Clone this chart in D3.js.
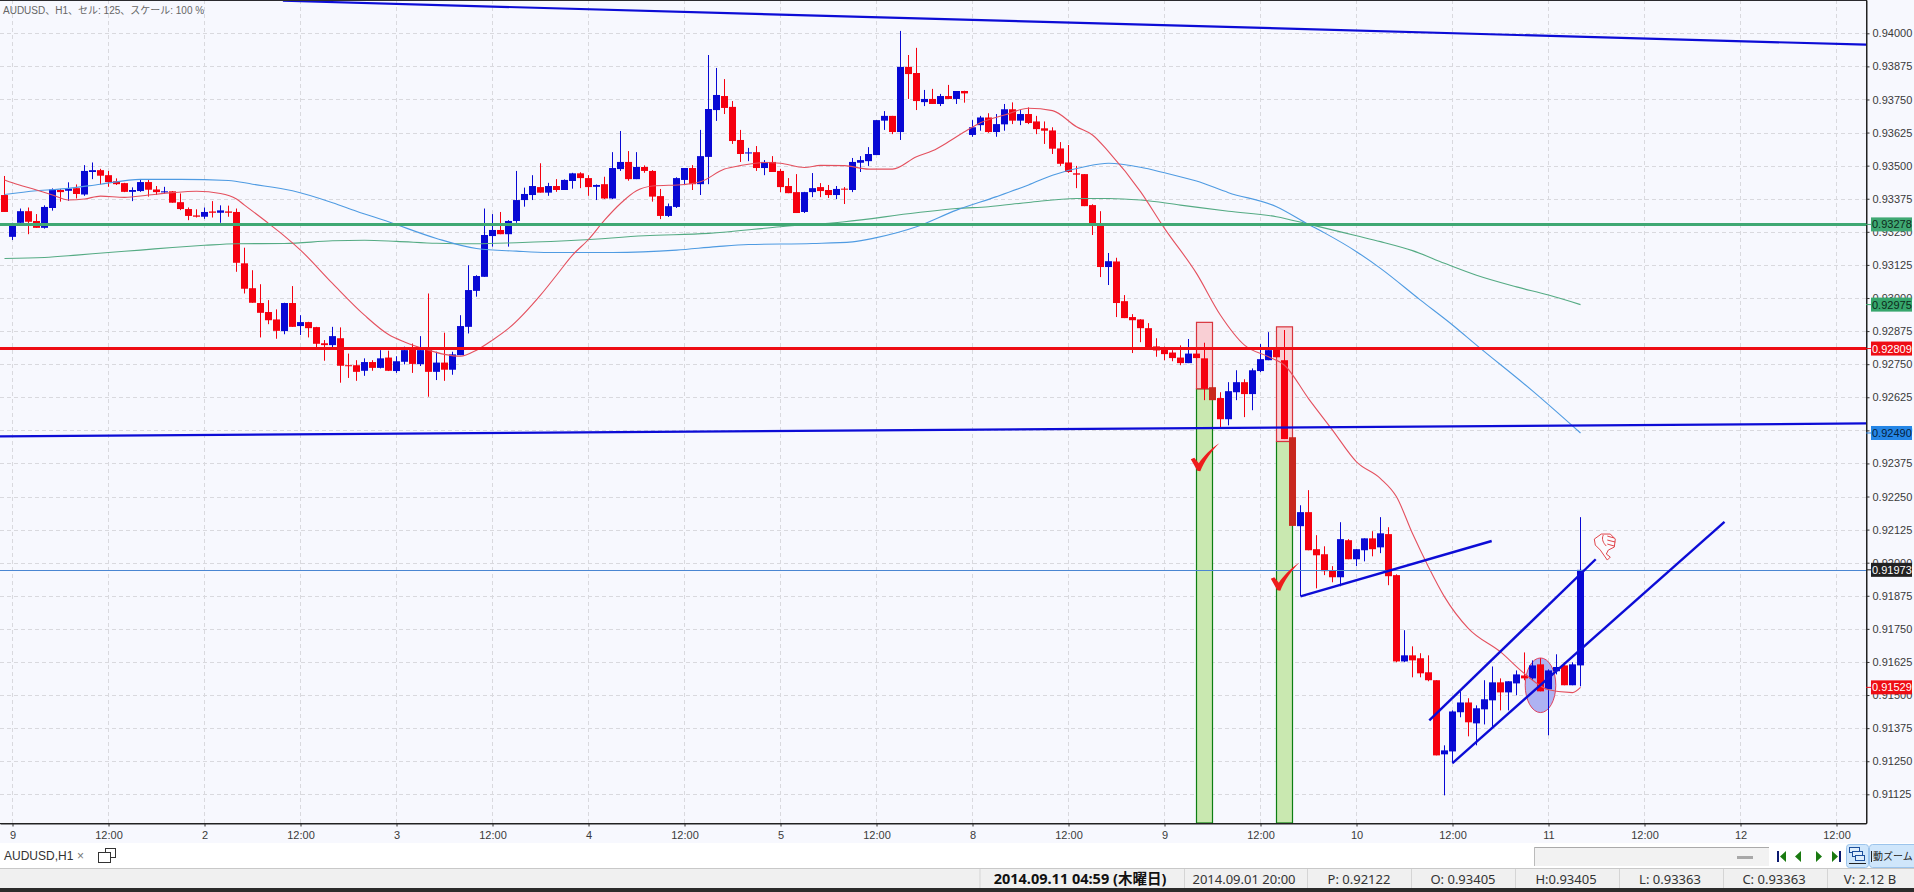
<!DOCTYPE html>
<html><head><meta charset="utf-8"><title>AUDUSD H1</title>
<script src="https://cdn.jsdelivr.net/npm/d3@7/dist/d3.min.js"></script>
<style>html,body{margin:0;padding:0;background:#fff;overflow:hidden}svg{display:block}text{font-family:"Liberation Sans","Noto Sans CJK JP",sans-serif}.st{font-family:"Noto Sans","Noto Sans CJK JP",sans-serif}</style>
</head><body><div id="chart"></div><script>
const highs=[.93461,.93284,.93338,.93342,.93317,.93350,.93414,.93412,.93437,.93429,
.93502,.93512,.93488,.93480,.93452,.93435,.93418,.93446,.93446,.93423,
.93420,.93404,.93395,.93342,.93335,.93342,.93366,.93350,.93349,.93338,
.93190,.93105,.93052,.92992,.92957,.92982,.93045,.92935,.92910,.92891,
.92841,.92891,.92889,.92790,.92765,.92772,.92765,.92803,.92801,.92780,
.92816,.92828,.92856,.93017,.92797,.92869,.92797,.92935,.93124,.93086,
.93338,.93317,.93325,.93294,.93480,.93417,.93464,.93509,.93435,.93449,
.93448,.93473,.93475,.93464,.93429,.93458,.93551,.93631,.93555,.93551,
.93501,.93483,.93412,.93357,.93456,.93491,.93502,.93635,.93918,.93869,
.93827,.93744,.93635,.93567,.93574,.93521,.93536,.93487,.93453,.93468,
.93401,.93472,.93434,.93427,.93423,.93419,.93529,.93536,.93570,.93672,
.93706,.93688,.94009,.93918,.93945,.93786,.93790,.93771,.93805,.93782,
.93783,.93672,.93688,.93698,.93695,.93733,.93739,.93710,.93720,.93688,
.93667,.93645,.93589,.93578,.93499,.93468,.93354,.93328,.93170,.93152,
.93011,.92939,.92920,.92905,.92848,.92816,.92803,.92821,.92845,.92809,
.92831,.92664,.92644,.92682,.92727,.92693,.92734,.92826,.92871,.92816,
.92879,.92474,.92217,.92274,.92104,.92062,.91987,.92153,.92089,.92051,
.92092,.92119,.92172,.92134,.91956,.91745,.91684,.91658,.91650,.91556,
.91310,.91442,.91514,.91488,.91461,.91556,.91608,.91563,.91552,.91593,
.91661,.91631,.91639,.91597,.91654,.91624,.91624,.92172];
const lows=[.93325,.93219,.93282,.93241,.93265,.93262,.93330,.93364,.93367,.93376,
.93386,.93449,.93429,.93420,.93427,.93400,.93366,.93401,.93383,.93389,
.93393,.93360,.93332,.93294,.93304,.93299,.93304,.93284,.93307,.93099,
.93017,.92982,.92851,.92901,.92846,.92863,.92891,.92860,.92851,.92811,
.92763,.92813,.92680,.92698,.92687,.92706,.92725,.92734,.92724,.92717,
.92749,.92717,.92743,.92627,.92690,.92687,.92710,.92784,.92866,.93005,
.93080,.93194,.93241,.93194,.93284,.93345,.93370,.93398,.93386,.93401,
.93408,.93413,.93415,.93386,.93370,.93374,.93374,.93480,.93443,.93449,
.93473,.93364,.93298,.93306,.93340,.93430,.93408,.93389,.93430,.93669,
.93695,.93582,.93514,.93517,.93480,.93464,.93476,.93400,.93396,.93321,
.93321,.93381,.93381,.93378,.93374,.93355,.93400,.93476,.93499,.93540,
.93635,.93619,.93597,.93752,.93710,.93725,.93733,.93725,.93752,.93733,
.93738,.93609,.93632,.93624,.93609,.93632,.93657,.93653,.93657,.93619,
.93582,.93544,.93499,.93473,.93415,.93347,.93238,.93079,.93049,.92928,
.92924,.92792,.92833,.92805,.92778,.92765,.92761,.92746,.92754,.92773,
.92614,.92614,.92508,.92519,.92614,.92550,.92576,.92720,.92765,.92776,
.92467,.92139,.91873,.92047,.91903,.91953,.91926,.91911,.92013,.91987,
.92005,.92024,.92036,.91915,.91624,.91624,.91567,.91567,.91552,.91272,
.91121,.91242,.91416,.91344,.91310,.91389,.91374,.91442,.91442,.91499,
.91556,.91556,.91514,.91348,.91578,.91537,.91537,.91533];
const opens=[.93389,.93231,.93284,.93328,.93291,.93265,.93340,.93408,.93405,.93415,
.93391,.93476,.93483,.93464,.93441,.93434,.93401,.93404,.93438,.93410,
.93399,.93403,.93362,.93336,.93312,.93307,.93327,.93322,.93327,.93325,
.93131,.93037,.92981,.92947,.92919,.92875,.92981,.92894,.92909,.92890,
.92829,.92822,.92848,.92746,.92746,.92725,.92758,.92736,.92775,.92724,
.92759,.92813,.92750,.92809,.92721,.92756,.92729,.92784,.92891,.93027,
.93080,.93234,.93257,.93241,.93291,.93370,.93389,.93419,.93398,.93423,
.93408,.93442,.93471,.93453,.93420,.93430,.93376,.93487,.93514,.93449,
.93495,.93480,.93385,.93310,.93344,.93446,.93491,.93430,.93533,.93710,
.93763,.93722,.93597,.93546,.93551,.93491,.93514,.93480,.93423,.93400,
.93325,.93400,.93419,.93408,.93389,.93413,.93408,.93511,.93517,.93540,
.93670,.93688,.93627,.93873,.93850,.93740,.93752,.93733,.93763,.93752,
.93782,.93616,.93653,.93682,.93627,.93656,.93713,.93670,.93695,.93667,
.93641,.93633,.93565,.93512,.93471,.93468,.93351,.93272,.93117,.93138,
.92988,.92928,.92919,.92886,.92817,.92807,.92794,.92775,.92754,.92790,
.92772,.92663,.92622,.92542,.92644,.92682,.92637,.92724,.92765,.92811,
.92765,.92474,.92138,.92191,.92051,.92032,.91971,.91945,.92085,.92013,
.92047,.92092,.92058,.92108,.91953,.91627,.91650,.91639,.91586,.91556,
.91276,.91287,.91435,.91472,.91393,.91446,.91480,.91548,.91510,.91544,
.91574,.91563,.91616,.91522,.91590,.91612,.91537,.91612];
const closes=[.93325,.93272,.93328,.93288,.93265,.93344,.93410,.93400,.93413,.93393,
.93480,.93483,.93462,.93438,.93430,.93401,.93408,.93438,.93409,.93400,
.93403,.93360,.93336,.93310,.93307,.93325,.93322,.93331,.93322,.93133,
.93035,.92982,.92944,.92916,.92876,.92981,.92891,.92909,.92886,.92827,
.92822,.92856,.92744,.92743,.92721,.92758,.92736,.92772,.92725,.92761,
.92803,.92751,.92803,.92721,.92756,.92729,.92787,.92894,.93030,.93083,
.93238,.93257,.93241,.93291,.93370,.93393,.93423,.93398,.93423,.93408,
.93446,.93471,.93453,.93419,.93427,.93376,.93491,.93514,.93449,.93495,
.93480,.93383,.93310,.93347,.93453,.93491,.93430,.93536,.93714,.93767,
.93718,.93593,.93544,.93550,.93491,.93514,.93476,.93419,.93396,.93321,
.93400,.93415,.93404,.93389,.93412,.93410,.93514,.93521,.93544,.93672,
.93688,.93627,.93873,.93846,.93744,.93752,.93733,.93763,.93752,.93782,
.93773,.93645,.93682,.93627,.93657,.93713,.93670,.93695,.93661,.93638,
.93632,.93564,.93507,.93476,.93466,.93347,.93272,.93117,.93139,.92981,
.92924,.92916,.92886,.92805,.92802,.92788,.92773,.92754,.92790,.92773,
.92657,.92614,.92542,.92648,.92682,.92637,.92727,.92769,.92803,.92776,
.92467,.92139,.92191,.92047,.92028,.91968,.91945,.92089,.92013,.92051,
.92092,.92051,.92111,.91949,.91627,.91650,.91631,.91582,.91556,.91272,
.91291,.91438,.91472,.91397,.91450,.91484,.91548,.91510,.91552,.91578,
.91563,.91612,.91514,.91593,.91606,.91537,.91616,.91973];

const redMaBars=[0,1,4,6,8,10,12,15,18,21,24,27,29,30,33,35,37,41,45,48,50,53,55,57,59,61,63,67,69,71,73,75,77,79,81,85,87,90,92,95,97,100,102,105,108,111,114,116,118,120,122,125,128,131,134,136,138,142,145,149,152,155,158,160,163,166,169,172,174,176,178,180,183,187,190,193,196,197];
const redMaValues=[.93446,.93435,.93408,.93389,.93370,.93374,.93385,.93380,.93389,.93398,.93403,.93395,.93374,.93351,.93282,.93234,.93181,.93055,.92935,.92862,.92834,.92803,.92787,.92780,.92803,.92841,.92885,.93011,.93086,.93162,.93221,.93294,.93357,.93405,.93423,.93429,.93439,.93487,.93500,.93512,.93509,.93493,.93501,.93500,.93487,.93487,.93534,.93556,.93590,.93628,.93662,.93691,.93717,.93708,.93647,.93616,.93553,.93402,.93263,.93093,.92935,.92822,.92778,.92746,.92620,.92501,.92381,.92318,.92249,.92110,.91984,.91871,.91751,.91663,.91581,.91520,.91509,.91529];
const blueMaBars=[0,4,8,12,17,22,28,31,36,41,44,48,54,59,64,68,76,84,89,93,101,106,109,114,119,124,128,131,135,138,142,145,149,153,159,163,165,169,172,177,181,184,191,197];
const blueMaValues=[.93391,.93405,.93414,.93430,.93448,.93448,.93444,.93430,.93405,.93360,.93328,.93288,.93225,.93187,.93177,.93172,.93172,.93181,.93194,.93202,.93206,.93212,.93228,.93269,.93332,.93383,.93427,.93464,.93496,.93509,.93494,.93473,.93442,.93398,.93345,.93278,.93246,.93175,.93112,.92992,.92898,.92822,.92649,.92490];
const greenMaBars=[0,5,9,13,17,21,25,29,35,41,45,49,54,59,64,72,80,88,97,105,114,119,123,128,134,138,142,147,153,159,163,169,172,176,180,184,189,193,197];
const greenMaValues=[.93149,.93153,.93162,.93172,.93181,.93191,.93199,.93205,.93206,.93216,.93218,.93214,.93207,.93205,.93209,.93219,.93235,.93244,.93269,.93288,.93322,.93338,.93345,.93361,.93376,.93376,.93370,.93351,.93328,.93307,.93279,.93235,.93213,.93179,.93131,.93086,.93042,.93011,.92975];

const priceTicks=[.94,.93875,.9375,.93625,.935,.93375,.9325,.93125,.93,.92875,.9275,.92625,.925,.92375,.9225,.92125,.92,.91875,.9175,.91625,.915,.91375,.9125,.91125];
const timeTickBars=[1,13,25,37,49,61,73,85,97,109,121,133,145,157,169,181,193,205,217,229];
const timeTickLabels=["9","12:00","2","12:00","3","12:00","4","12:00","5","12:00","8","12:00","9","12:00","10","12:00","11","12:00","12","12:00"];

const levelPrices={green:.93278,red:.92809};
const bidPrice=.91973;
const priceTags=[
 {value:.93278,fill:"#3fa873",text:"#0d2a1a"},
 {value:.92975,fill:"#36a66c",text:"#0d2a1a"},
 {value:.92809,fill:"#ee0d14",text:"#fff"},
 {value:.92490,fill:"#2586e6",text:"#06223d"},
 {value:.91973,fill:"#222222",text:"#fff"},
 {value:.91529,fill:"#ee0d14",text:"#fff"}];
const trendLines=[
 {a:[34.8,.94123],b:[232.7,.93957],w:2.2},
 {a:[-.6,.92477],b:[232.7,.92526],w:2.2},
 {a:[162,.91873],b:[185.9,.92082],w:2.4},
 {a:[178.1,.91404],b:[198.9,.92013],w:2.4},
 {a:[181,.91243],b:[215,.92154],w:2.4}];
const shadedBands=[
 {from:149,to:151,top:.92908,mid:.92657},
 {from:159,to:161,top:.92891,mid:.92458}];
const checkAnchors=[[149.1,.92349],[159.1,.91898]];
const dimmedBars=[151,161];

const W=1914,H=892,plotR=1866,plotB=823;
const x=d3.scaleLinear().domain([-.5625,232.6875]).range([0,plotR]);
const y=d3.scaleLinear().domain([.941258,.910166]).range([0,plotB]);
const svg=d3.select("#chart").append("svg").attr("width",W).attr("height",H).attr("viewBox",[0,0,W,H]);
const clipId="plotclip";
svg.append("defs").append("clipPath").attr("id",clipId).append("rect").attr("width",plotR).attr("height",plotB);

svg.append("rect").attr("width",W).attr("height",843).attr("fill","#f7f8fe");

// grid
const grid=svg.append("g").attr("stroke","#d9d9de").attr("stroke-dasharray","4,3").attr("stroke-width",1);
grid.selectAll("line.h").data(priceTicks).join("line").attr("x1",0).attr("x2",plotR)
  .attr("y1",d=>Math.round(y(d))+.5).attr("y2",d=>Math.round(y(d))+.5);
grid.selectAll("line.v").data(timeTickBars).join("line").attr("y1",0).attr("y2",plotB)
  .attr("x1",d=>x(d)).attr("x2",d=>x(d));

const plot=svg.append("g").attr("clip-path",`url(#${clipId})`);

// shaded annotation bands
shadedBands.forEach(b=>{
  plot.append("rect").attr("x",x(b.from)).attr("width",x(b.to)-x(b.from)).attr("y",y(b.mid)).attr("height",plotB-y(b.mid))
    .attr("fill","#c9e8b0").attr("stroke","#0d7f12").attr("stroke-width",1.2);
  plot.append("rect").attr("x",x(b.from)).attr("width",x(b.to)-x(b.from)).attr("y",y(b.top)).attr("height",y(b.mid)-y(b.top))
    .attr("fill","#f9cfd4").attr("stroke","#d8343c").attr("stroke-width",1.2);
});
// ellipse annotation
plot.append("ellipse").attr("cx",x(192)).attr("cy",y(.91537)).attr("rx",15.3).attr("ry",27.3)
  .attr("fill","#aeb2f2").attr("stroke","#e0405c").attr("stroke-width",1);

// candles
const candles=d3.range(highs.length);
const col=i=>dimmedBars.includes(i)?"#c8281e":(closes[i]>=opens[i]?"#0808d4":"#f5000f");
plot.append("g").selectAll("line").data(candles).join("line")
  .attr("x1",i=>x(i)).attr("x2",i=>x(i)).attr("y1",i=>y(highs[i])).attr("y2",i=>y(lows[i]))
  .attr("stroke",col).attr("stroke-width",1);
plot.append("g").selectAll("rect").data(candles).join("rect")
  .attr("x",i=>x(i)-3.5).attr("width",7)
  .attr("y",i=>y(Math.max(opens[i],closes[i])))
  .attr("height",i=>Math.max(1,Math.abs(y(opens[i])-y(closes[i]))))
  .attr("fill",col);

// moving averages
const maLine=(bars,vals,color)=>{
  plot.append("path").datum(bars.map((b,k)=>[b,vals[k]]))
   .attr("fill","none").attr("stroke",color).attr("stroke-width",1.1)
   .attr("d",d3.line().x(d=>x(d[0])).y(d=>y(d[1])).curve(d3.curveMonotoneX));
};
maLine(greenMaBars,greenMaValues,"#55ab84");
maLine(blueMaBars,blueMaValues,"#4f9be2");
maLine(redMaBars,redMaValues,"#e4505e");

// horizontal levels
plot.append("line").attr("x1",0).attr("x2",plotR).attr("y1",y(levelPrices.green)).attr("y2",y(levelPrices.green)).attr("stroke","#3fa873").attr("stroke-width",3);
plot.append("line").attr("x1",0).attr("x2",plotR).attr("y1",y(levelPrices.red)).attr("y2",y(levelPrices.red)).attr("stroke","#ee0d14").attr("stroke-width",3);
plot.append("line").attr("x1",0).attr("x2",plotR).attr("y1",Math.round(y(bidPrice))+.5).attr("y2",Math.round(y(bidPrice))+.5).attr("stroke","#4a86d2").attr("stroke-width",1);

// trend lines
plot.append("g").selectAll("line").data(trendLines).join("line")
  .attr("x1",d=>x(d.a[0])).attr("y1",d=>y(d.a[1])).attr("x2",d=>x(d.b[0])).attr("y2",d=>y(d.b[1]))
  .attr("stroke","#0c0cd6").attr("stroke-width",d=>d.w);

// check marks
plot.append("g").selectAll("path").data(checkAnchors).join("path")
  .attr("transform",d=>`translate(${x(d[0])},${y(d[1])})`)
  .attr("d","M-6.5,-11 L-3,-12.5 L1.5,-7 C6,-14 14,-22 22,-27 C14,-19 7,-9 3,1 L0,.5 Z")
  .attr("fill","#ee1c1c");

// thumbs-down sticker
const thumb=plot.append("g").attr("transform",`translate(${x(198.6)},${y(.92112)})`)
  .attr("fill","#fbfbff").attr("stroke","#e0444a").attr("stroke-width",1);
thumb.append("path").attr("d","M1,6 L8,1 L17,1 L22,6 L21,14 L15,17 L13,21 L17,24 L14,27 L7,17 L2,12 Z");
thumb.append("path").attr("fill","none").attr("d","M14,3 L21,5 M14,7 L22,9 M14,11 L21,13 M10,2 C8,6 10,10 13,13");

// axes
const yAxis=d3.axisRight(y).tickValues(priceTicks).tickFormat(d3.format(".5f")).tickSize(3).tickPadding(3).tickSizeOuter(0);
const ya=svg.append("g").attr("transform",`translate(${plotR+.5},0)`).call(yAxis);
const xAxis=d3.axisBottom(x).tickValues(timeTickBars).tickFormat((d,k)=>timeTickLabels[k]).tickSize(3).tickPadding(3).tickSizeOuter(0);
const xa=svg.append("g").attr("transform",`translate(0,${plotB+.5})`).call(xAxis);
[ya,xa].forEach(a=>{a.selectAll("text").attr("font-size",11).attr("fill","#3a3a3a").style("font-family","'Liberation Sans'");
  a.selectAll(".tick line").attr("stroke","#333");a.select(".domain").attr("stroke","#222").attr("stroke-width",1)});
xa.selectAll("text").attr("dy",".9em");
svg.append("line").attr("x1",0).attr("x2",plotR+.5).attr("y1",.5).attr("y2",.5).attr("stroke","#2a2a2e");
svg.append("line").attr("x1",plotR+.5).attr("x2",plotR+.5).attr("y1",0).attr("y2",plotB+1).attr("stroke","#222");
svg.append("line").attr("x1",0).attr("x2",plotR+.5).attr("y1",plotB+.5).attr("y2",plotB+.5).attr("stroke","#222");

// price tags
const tags=svg.append("g").selectAll("g").data(priceTags).join("g").attr("transform",d=>`translate(1871,${y(d.value)})`);
tags.append("line").attr("x1",-5).attr("x2",0).attr("stroke",d=>d.fill);
tags.append("rect").attr("y",-7).attr("width",41).attr("height",14).attr("fill",d=>d.fill);
tags.append("text").attr("x",1).attr("dy",".36em").attr("font-size",11).attr("fill",d=>d.text).text(d=>d3.format(".5f")(d.value));

// heading
svg.append("text").attr("x",3).attr("y",14).attr("font-size",10).attr("fill","#666").text("AUDUSD、H1、セル: 125、スケール: 100 %");

// bottom chrome
svg.append("rect").attr("y",843).attr("width",W).attr("height",25).attr("fill","#fff");
svg.append("rect").attr("y",868).attr("width",W).attr("height",20).attr("fill","#f0f0f0");
svg.append("line").attr("x1",0).attr("x2",W).attr("y1",868.5).attr("y2",868.5).attr("stroke","#c8c8c8");
svg.append("rect").attr("y",888).attr("width",W).attr("height",4).attr("fill","#2b2b2b");
svg.append("text").attr("x",4).attr("y",860).attr("font-size",12).attr("fill","#333").text("AUDUSD,H1");
svg.append("text").attr("x",77).attr("y",860).attr("font-size",12).attr("fill","#777").text("×");
const ic=svg.append("g").attr("fill","#fff").attr("stroke","#333").attr("stroke-width",1);
ic.append("rect").attr("x",105.5).attr("y",848.5).attr("width",10).attr("height",9);
ic.append("rect").attr("x",98.5).attr("y",852.5).attr("width",12).attr("height",10);

// scrollbar + nav
svg.append("rect").attr("x",1534).attr("y",847).attr("width",235).attr("height",19).attr("fill","#f2f2f2");
svg.append("line").attr("x1",1534).attr("x2",1769).attr("y1",847.5).attr("y2",847.5).attr("stroke","#aaa");
svg.append("line").attr("x1",1534.5).attr("x2",1534.5).attr("y1",847).attr("y2",866).attr("stroke","#bbb");
svg.append("rect").attr("x",1737).attr("y",856).attr("width",16).attr("height",3).attr("fill","#a8a8a8");
svg.append("rect").attr("x",1777).attr("y",851).attr("width",2).attr("height",11).attr("fill","#0c1a70");
svg.append("path").attr("d","M1780,856.5 L1786,851 L1786,862 Z M1795,856.5 L1801,851 L1801,862 Z M1822,856.5 L1816,851 L1816,862 Z M1832,851 L1838,856.5 L1832,862 Z").attr("fill","#1a7a10");
svg.append("rect").attr("x",1839).attr("y",851).attr("width",2).attr("height",11).attr("fill","#0c1a70");
svg.append("rect").attr("x",1846.5).attr("y",844.5).attr("width",22).attr("height",23).attr("rx",3).attr("fill","#cfe6fb").attr("stroke","#9cc4ec");
svg.append("rect").attr("x",1869.5).attr("y",844.5).attr("width",50).attr("height",23).attr("rx",3).attr("fill","#cfe6fb").attr("stroke","#9cc4ec");
const st=svg.append("g").attr("fill","#dfeefc").attr("stroke","#1d4f9c");
st.append("rect").attr("x",1849.5).attr("y",847.5).attr("width",10).attr("height",5);
st.append("rect").attr("x",1852.5).attr("y",851.5).attr("width",10).attr("height",5);
st.append("rect").attr("x",1855.5).attr("y",855.5).attr("width",9).attr("height",5);
svg.append("line").attr("x1",1849).attr("x2",1866).attr("y1",863.5).attr("y2",863.5).attr("stroke","#222");
svg.append("text").attr("class","st").attr("x",1873).attr("y",860).attr("font-size",10).attr("fill","#222").text("動ズーム");
svg.append("line").attr("x1",1871.5).attr("x2",1871.5).attr("y1",851).attr("y2",862).attr("stroke","#222");

// status bar
const statusSeps=[979.5,1184,1307,1411,1515,1619,1723,1827];
svg.append("g").selectAll("line").data(statusSeps).join("line").attr("x1",d=>d+.5).attr("x2",d=>d+.5).attr("y1",869).attr("y2",888).attr("stroke","#d5d5d5");
const statusTexts=[["2014.09.11 04:59 (木曜日)",1080,true],["2014.09.01 20:00",1244,false],["P: 0.92122",1359,false],["O: 0.93405",1463,false],["H:0.93405",1566,false],["L: 0.93363",1670,false],["C: 0.93363",1774,false],["V: 2.12 B",1870,false]];
svg.append("g").selectAll("text").data(statusTexts).join("text").attr("class","st")
  .attr("x",d=>d[1]).attr("y",883.5).attr("text-anchor","middle").attr("font-size",d=>d[2]?14.5:13).attr("font-weight",d=>d[2]?700:400).attr("fill",d=>d[2]?"#111":"#333").text(d=>d[0]);
</script></body></html>
